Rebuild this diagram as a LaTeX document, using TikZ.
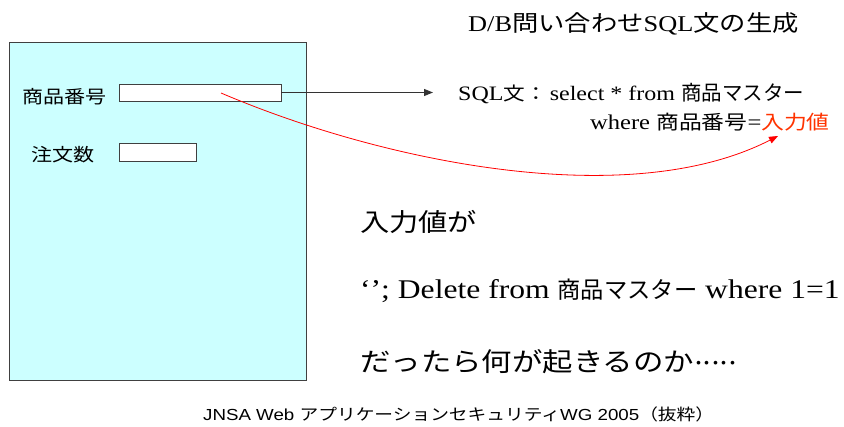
\documentclass[tikz,border=0pt]{standalone}
\usepackage{fontspec}
\setmainfont{Liberation Serif}[FakeStretch=1.17]
\newfontfamily\jp{Noto Sans CJK JP}[FakeStretch=1.17]
\newfontfamily\jpn{Noto Sans CJK JP}
\newfontfamily\arialf{Liberation Sans}[FakeStretch=1.17]
\usetikzlibrary{arrows.meta}
\definecolor{formbg}{HTML}{CCFFFF}
\definecolor{formline}{HTML}{404040}
\definecolor{inputred}{HTML}{FF3300}
\newcommand{\fs}[1]{\fontsize{#1}{#1}\selectfont}
\newcommand{\dotlead}{\makebox[8.6pt]{\jpn\fs{22}･}}
\tikzset{
  txt/.style={inner sep=0pt, anchor=base west},
  field/.style={draw=formline, fill=white, line width=0.8pt},
  tip/.style={-{Triangle[length=9pt,width=7pt]}},
}
\begin{document}
\begin{tikzpicture}[x=1pt,y=-1pt]
\useasboundingbox (0,0) rectangle (844,427);

% input form
\draw[draw=formline, fill=formbg, line width=0.9pt] (9.5,42) rectangle (306,380);
\node[txt, font=\jp\fs{18}] (lblcode) at (22,104) {商品番号};
\node[txt, font=\jp\fs{18}] (lblqty) at (31,162) {注文数};
\draw[field] (119,84) rectangle (281,101);
\coordinate (codeR) at (281,92.5);
\coordinate (codeIn) at (221,93);
\draw[field] (119,143) rectangle (196,161);

% generated query
\node[txt, font=\fs{22.5}] (title) at (468,32) {D/B{\jp 問い合わせ}SQL{\jp 文の生成}};
\node[txt, font=\fs{20.5}] (sql1) at (458,101) {SQL{\jp\fs{18.5}文：}\hspace{3pt}select * from {\jpn\fs{20.5}商品マスター}};
\node[inner sep=0pt, anchor=base east, font=\fs{21}] (sql2) at (830,130) {where {\jp\fs{19.5}商品番号}={\jp\fs{19.5}\color{inputred}入力値}};
\coordinate (valTip) at (778,136);

\draw[formline!80!black, line width=0.8pt, tip] (codeR) -- (433,92.5);
\draw[red, line width=0.8pt, tip] (codeIn) .. controls (385,163) and (630,212) .. (valTip);

% injection example
\node[txt, font=\jp\fs{25}] (q1) at (360,232) {入力値が};
\node[txt, font=\fs{27}] (q2) at (360,299) {`'; Delete from {\jpn\fs{23.3}商品マスター} where 1=1};
\node[txt, font=\jp\fs{26}] (q3) at (360,372) {だったら何が起きるのか\dotlead\dotlead\dotlead\dotlead\dotlead};

% source
\node[txt, font=\arialf\fs{16}] (src) at (203,421) {JNSA Web {\jp アプリケーションセキュリティ}WG 2005{\jp （抜粋）}};
\end{tikzpicture}
\end{document}
